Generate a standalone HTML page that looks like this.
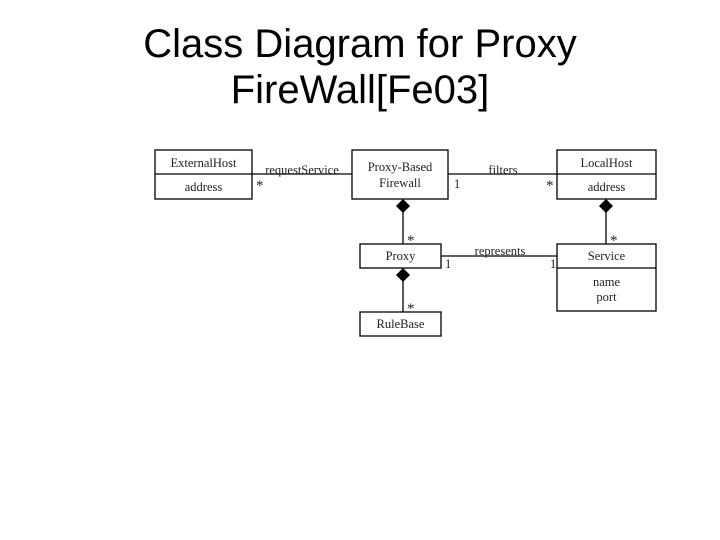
<!DOCTYPE html>
<html><head><meta charset="utf-8"><style>
html,body{margin:0;padding:0;background:#fff;width:720px;height:540px;overflow:hidden}
.t{position:absolute;left:0;width:720px;text-align:center;font-family:"Liberation Sans",sans-serif;font-size:40px;color:#000;line-height:46px}
svg{position:absolute;left:0;top:0}
svg text{font-family:"Liberation Serif",serif;font-size:12.5px;fill:#222}
svg text.s{font-size:15px}
</style></head><body>
<div class="t" style="top:21px">Class Diagram for Proxy</div>
<div class="t" style="top:67px">FireWall[Fe03]</div>
<svg width="720" height="540">
<g fill="none" stroke="#000" stroke-width="1.3">
<rect x="155" y="150" width="97" height="49"/><line x1="155" y1="174" x2="252" y2="174"/>
<rect x="352" y="150" width="96" height="49"/>
<rect x="557" y="150" width="99" height="49"/><line x1="557" y1="174" x2="656" y2="174"/>
<rect x="360" y="244" width="81" height="24"/>
<rect x="557" y="244" width="99" height="67"/><line x1="557" y1="268" x2="656" y2="268"/>
<rect x="360" y="312" width="81" height="24"/>
<line x1="252" y1="174" x2="352" y2="174"/>
<line x1="448" y1="174" x2="557" y2="174"/>
<line x1="441" y1="256" x2="557" y2="256"/>
<line x1="403" y1="212" x2="403" y2="244"/>
<line x1="606" y1="212" x2="606" y2="244"/>
<line x1="403" y1="281" x2="403" y2="312"/>
</g>
<g fill="#000">
<polygon points="403,199 410,206 403,213 396,206"/>
<polygon points="606,199 613,206 606,213 599,206"/>
<polygon points="403,268 410,275 403,282 396,275"/>
</g>
<g text-anchor="middle">
<text x="203.5" y="167">ExternalHost</text>
<text x="203.5" y="191">address</text>
<text x="400" y="171">Proxy-Based</text>
<text x="400" y="187">Firewall</text>
<text x="606.5" y="167">LocalHost</text>
<text x="606.5" y="191">address</text>
<text x="400.5" y="260">Proxy</text>
<text x="606.5" y="260">Service</text>
<text x="606.5" y="286">name</text>
<text x="606.5" y="301">port</text>
<text x="400.5" y="328">RuleBase</text>
<text x="302" y="174">requestService</text>
<text x="503" y="174">filters</text>
<text x="500" y="255">represents</text>
</g>
<g>
<text class="s" x="256" y="190">*</text>
<text x="454" y="188">1</text>
<text class="s" x="546" y="190">*</text>
<text class="s" x="407" y="245">*</text>
<text class="s" x="610" y="245">*</text>
<text class="s" x="407" y="313">*</text>
<text x="445" y="268">1</text>
<text x="550" y="268">1</text>
</g>
</svg>
</body></html>
